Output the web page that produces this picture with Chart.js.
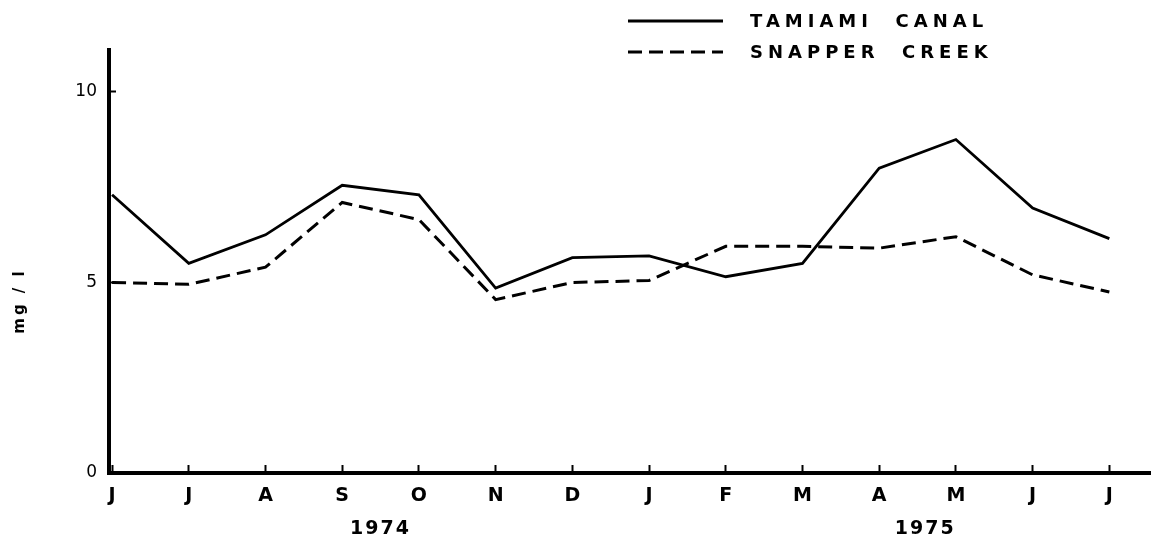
<!DOCTYPE html>
<html>
<head>
<meta charset="utf-8">
<script src="https://cdn.jsdelivr.net/npm/chart.js@4"></script>
<style>
  html, body { margin: 0; padding: 0; background: #fff; }
</style>
</head>
<body>
<canvas id="oxygenChart" width="1157" height="543"></canvas>
<script>
// mesi giugno 1974 - luglio 1975
const months = ['J', 'J', 'A', 'S', 'O', 'N', 'D', 'J', 'F', 'M', 'A', 'M', 'J', 'J'];
const tamiami = [7.3, 5.5, 6.25, 7.55, 7.3, 4.85, 5.65, 5.7, 5.15, 5.5, 8.0, 8.75, 6.95, 6.15];
const snapper = [5.0, 4.95, 5.4, 7.1, 6.65, 4.55, 5.0, 5.05, 5.95, 5.95, 5.9, 6.2, 5.2, 4.75];
const yTicks = [0, 5, 10];
const years = ['1974', '1975'];
const seriesNames = ['TAMIAMI  CANAL', 'SNAPPER  CREEK'];

const FONT = '"DejaVu Sans", sans-serif';

// anni sotto i mesi, titolo asse y e legenda disegnati a mano
const paperText = {
  id: 'paperText',
  afterDraw(chart) {
    const { ctx, scales: { x } } = chart;
    ctx.save();
    ctx.fillStyle = '#000';
    ctx.textAlign = 'center';
    ctx.textBaseline = 'middle';

    ctx.font = 'bold 19px ' + FONT;
    ctx.letterSpacing = '2px';
    ctx.fillText(years[0], x.getPixelForValue(3.5), 529);
    ctx.fillText(years[1], x.getPixelForValue(10.6), 529);

    ctx.save();
    ctx.translate(20, 301);
    ctx.rotate(-Math.PI / 2);
    ctx.font = 'bold 15px ' + FONT;
    ctx.letterSpacing = '3px';
    ctx.fillText('mg / l', 0, 0);
    ctx.restore();

    // legenda
    chart.data.datasets.forEach((ds, i) => {
      const ly = 21 + i * 31;
      ctx.beginPath();
      ctx.lineWidth = 3;
      ctx.strokeStyle = '#000';
      ctx.setLineDash(ds.borderDash || []);
      ctx.moveTo(628, ly);
      ctx.lineTo(723, ly);
      ctx.stroke();
      ctx.setLineDash([]);
      ctx.textAlign = 'left';
      ctx.font = 'bold 18px ' + FONT;
      ctx.letterSpacing = '5px';
      ctx.fillText(ds.label, 750, ly + 1);
    });
    ctx.restore();
  }
};

let ctx = document.getElementById('oxygenChart').getContext('2d');

let data = {
  datasets: [
    {
      label: seriesNames[0],
      data: tamiami.map((v, i) => ({ x: i, y: v })),
      borderColor: '#000',
      borderWidth: 2.8,
      pointRadius: 0,
      tension: 0
    },
    {
      label: seriesNames[1],
      data: snapper.map((v, i) => ({ x: i, y: v })),
      borderColor: '#000',
      borderWidth: 3,
      borderDash: [14, 7],
      pointRadius: 0,
      tension: 0
    }
  ]
};

let options = {
  responsive: false,
  animation: false,
  layout: { padding: { top: 50, right: 7, left: 0, bottom: 0 } },
  plugins: { legend: { display: false }, tooltip: { enabled: false } },
  scales: {
    x: {
      type: 'linear',
      min: -0.04,
      max: 13.53,
      afterBuildTicks: s => { s.ticks = months.map((m, i) => ({ value: i })); },
      afterFit: s => { s.height = 70; },
      ticks: {
        callback: (v, i) => months[i],
        color: '#000',
        font: { family: FONT, size: 19, weight: 'bold' },
        padding: 20,
        autoSkip: false,
        maxRotation: 0
      },
      grid: { drawOnChartArea: false, drawTicks: true, tickLength: -8, tickColor: '#000', tickWidth: 2 },
      border: { color: '#000', width: 4 }
    },
    y: {
      min: 0,
      max: 11.1,
      afterBuildTicks: s => { s.ticks = yTicks.map(v => ({ value: v })); },
      afterFit: s => { s.width = 109; },
      ticks: {
        color: '#000',
        font: { family: FONT, size: 17 },
        padding: 19
      },
      grid: { drawOnChartArea: false, drawTicks: true, tickLength: -7, tickColor: '#000', tickWidth: 2 },
      border: { color: '#000', width: 4 }
    }
  }
};

let oxygenChart = new Chart(ctx, {
  type: 'line',
  data: data,
  options: options,
  plugins: [paperText]
});
</script>
</body>
</html>
